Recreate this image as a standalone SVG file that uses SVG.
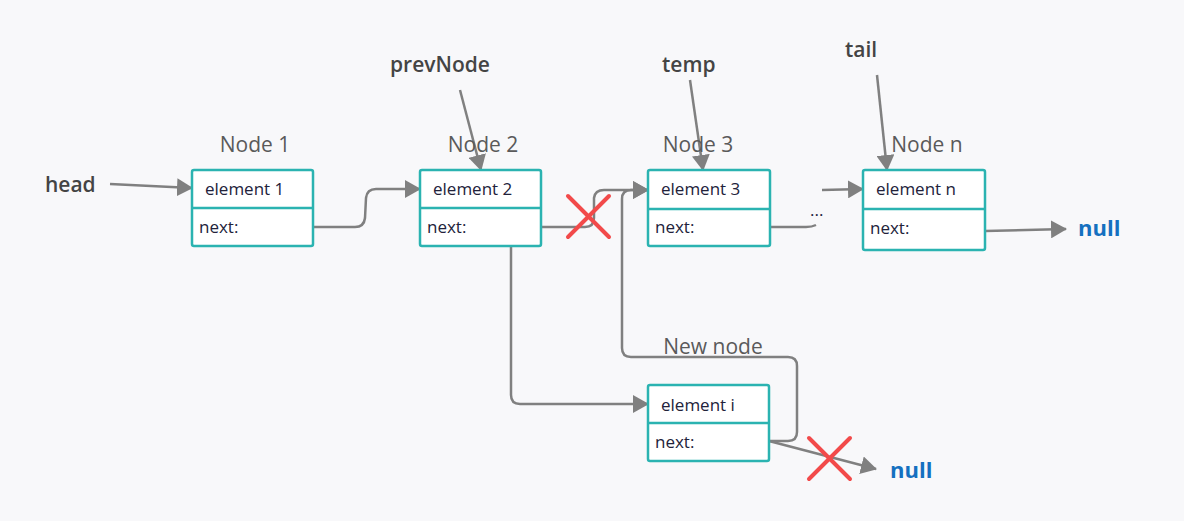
<svg xmlns="http://www.w3.org/2000/svg" width="1184" height="521" viewBox="0 0 1184 521">
<defs>
<marker id="arr" markerUnits="userSpaceOnUse" markerWidth="16" markerHeight="18" refX="15" refY="9" orient="auto">
<path d="M0,0 L16,9 L0,18 Z" fill="#808080"/>
</marker>
<style>
.box{fill:#fff;stroke:#2bb3b1;stroke-width:2.5}
.div{stroke:#2bb3b1;stroke-width:2.5}
.el{font-family:"Open Sans","Noto Sans",sans-serif;font-size:17px;fill:#22223a}
.lbl{font-family:"Open Sans","Noto Sans",sans-serif;font-size:21px;fill:#5a5a5a}
.ptr{font-family:"Open Sans","Noto Sans",sans-serif;font-size:21px;font-weight:600;fill:#444}
.nul{font-family:"Open Sans","Noto Sans",sans-serif;font-size:22px;font-weight:700;fill:#1570c0}
.c{fill:none;stroke:#808080;stroke-width:2.5;stroke-linejoin:round}
.x{stroke:#f24a4a;stroke-width:4;stroke-linecap:round}
</style>
</defs>
<rect width="1184" height="521" fill="#f8f8fa"/>
<g id="connectors">
<path class="c" d="M110,184 L192,188" marker-end="url(#arr)"/>
<path class="c" d="M460,90 L481,170" marker-end="url(#arr)"/>
<path class="c" d="M690,80 L703,170" marker-end="url(#arr)"/>
<path class="c" d="M877,75 L887,170" marker-end="url(#arr)"/>
<path class="c" d="M313,227 L355,227 Q364,227 365,218 L366,198 Q367,189 376,189 L420,189" marker-end="url(#arr)"/>
<path class="c" d="M541,227 L585,227 Q594,227 594,218 L594,198 Q595,190 604,190 L648,190" marker-end="url(#arr)"/>
<path class="c" d="M511,246 L511,395 Q511,404 520,404 L648,404" marker-end="url(#arr)"/>
<path class="c" d="M769,441 L788,441 Q797,441 797,432 L797,366 Q797,357 788,357 L631,357 Q622,357 622,348 L622,199 Q622,190 631,190 L648,190" marker-end="url(#arr)"/>
<path class="c" d="M769,441 L876,469" marker-end="url(#arr)"/>
<path class="c" d="M770,227 L806,227 Q812,227 816,225"/>
<path class="c" d="M822,190 L863,189" marker-end="url(#arr)"/>
<path class="c" d="M985,231 L1066,229" marker-end="url(#arr)"/>
</g>
<g id="x1"><line class="x" x1="568" y1="196" x2="609" y2="237"/><line class="x" x1="609" y1="196" x2="568" y2="237"/></g>
<g id="x2"><line class="x" x1="809" y1="438" x2="850" y2="479"/><line class="x" x1="850" y1="438" x2="809" y2="479"/></g>
<g id="head"><text class="ptr" x="45" y="192">head</text></g>
<g id="prevNode"><text class="ptr" x="390" y="72">prevNode</text></g>
<g id="temp"><text class="ptr" x="662" y="72">temp</text></g>
<g id="tail"><text class="ptr" x="845" y="57">tail</text></g>
<g id="node1">
<text class="lbl" x="255" y="152" text-anchor="middle">Node 1</text>
<rect class="box" x="192" y="170" width="121" height="76" rx="2"/>
<line class="div" x1="192" y1="208" x2="313" y2="208"/>
<text class="el" x="205" y="195">element 1</text>
<text class="el" x="199" y="233">next:</text>
</g>
<g id="node2">
<text class="lbl" x="483" y="152" text-anchor="middle">Node 2</text>
<rect class="box" x="420" y="170" width="121" height="76" rx="2"/>
<line class="div" x1="420" y1="208" x2="541" y2="208"/>
<text class="el" x="433" y="195">element 2</text>
<text class="el" x="427" y="233">next:</text>
</g>
<g id="node3">
<text class="lbl" x="698" y="152" text-anchor="middle">Node 3</text>
<rect class="box" x="648" y="170" width="122" height="76" rx="2"/>
<line class="div" x1="648" y1="209" x2="770" y2="209"/>
<text class="el" x="661" y="195">element 3</text>
<text class="el" x="655" y="233">next:</text>
</g>
<g id="dots"><text class="el" x="810" y="216">...</text></g>
<g id="nodeN">
<text class="lbl" x="927" y="152" text-anchor="middle">Node n</text>
<rect class="box" x="863" y="170" width="122" height="80" rx="2"/>
<line class="div" x1="863" y1="209" x2="985" y2="209"/>
<text class="el" x="876" y="195">element n</text>
<text class="el" x="870" y="234">next:</text>
</g>
<g id="nodeI">
<text class="lbl" x="713" y="354" text-anchor="middle">New node</text>
<rect class="box" x="648" y="385" width="121" height="76" rx="2"/>
<line class="div" x1="648" y1="423" x2="769" y2="423"/>
<text class="el" x="661" y="411">element i</text>
<text class="el" x="655" y="448">next:</text>
</g>
<g id="null1"><text class="nul" x="1078" y="236">null</text></g>
<g id="null2"><text class="nul" x="890" y="478">null</text></g>
</svg>
